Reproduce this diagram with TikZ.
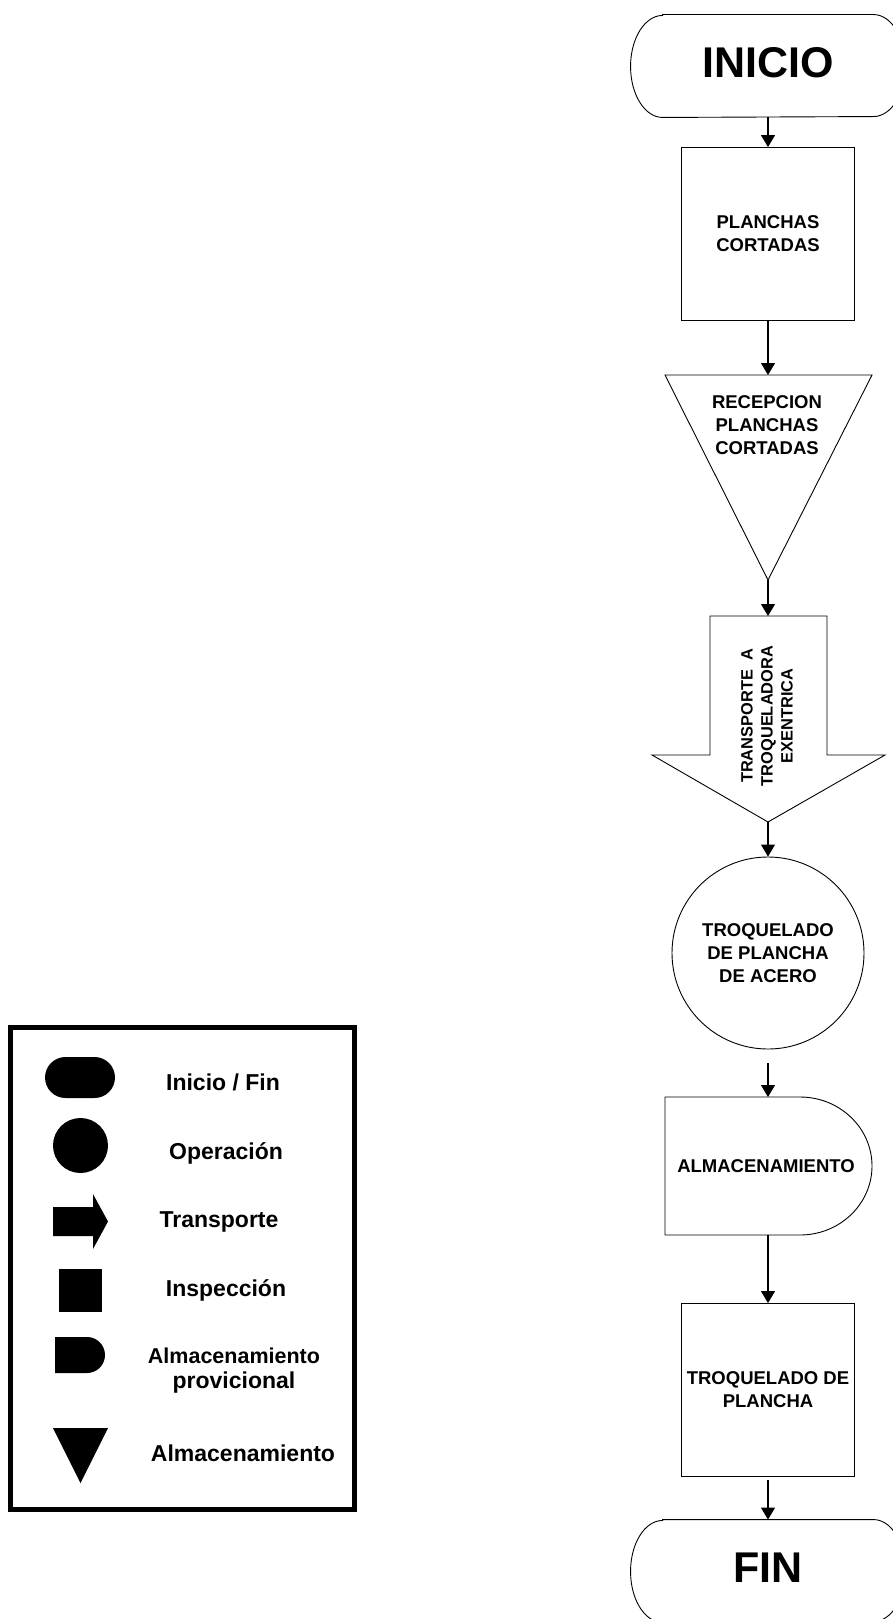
\documentclass[tikz,border=0pt]{standalone}
\usepackage{fontspec}
\setmainfont{Liberation Sans}
\usetikzlibrary{arrows.meta,calc,positioning}
\newcommand{\txtfig}{\fontsize{18.5}{23}\selectfont\bfseries}
\newcommand{\txtley}{\fontsize{23}{25}\selectfont\bfseries}
\newcommand{\termframe}[1]{%
 \draw ($(#1.north west)+(32,0)$) -- ($(#1.north east)-(32,0)$)
   arc[start angle=90, end angle=-90, x radius=32, y radius=51]
   -- ($(#1.south west)+(32,0)$)
   arc[start angle=270, end angle=90, x radius=32, y radius=51] -- cycle;}

\begin{document}
\begin{tikzpicture}[x=1pt, y=1pt, line width=0.9pt,
  flecha/.style={-{Triangle[width=14pt,length=12pt]}, line width=1.1pt},
  caja/.style={draw, minimum width=173, minimum height=173, inner sep=2pt, align=center, font=\txtfig},
  terminal/.style={minimum width=274, minimum height=102, inner sep=0pt, text depth=7pt, font={\fontsize{43}{43}\selectfont\bfseries}},
  texto/.style={align=center, font=\txtfig, inner sep=0pt},
  ley/.style={align=center, font=\txtley, anchor=base}]
 \useasboundingbox (0,0) rectangle (893,-1619);
 % leyenda
 \draw[line width=5pt] (10.5,-1027.5) rectangle (354.5,-1509.5);
 \fill[rounded corners=20.5] (45,-1057) rectangle (115,-1098);
 \fill (80.5,-1145.5) circle (27.5);
 \fill (53,-1207) -- (93,-1207) -- (93,-1194) -- (108,-1221.5) -- (93,-1249) -- (93,-1236) -- (53,-1236) -- cycle;
 \fill (59,-1269) rectangle (102,-1312);
 \fill (55,-1337) -- (87,-1337) arc[start angle=90, end angle=-90, radius=18] -- (55,-1373) -- cycle;
 \fill (53,-1428) -- (108,-1428) -- (80.5,-1483) -- cycle;
 \node[ley] (lini) at (223,-1090.7) {Inicio / Fin};
 \node[ley] (lope) at (226,-1159.3) {Operación};
 \node[ley] (ltra) at (219,-1227.7) {Transporte};
 \node[ley] (lins) at (226,-1296.7) {Inspección};
 \node[ley, anchor=center] (lalp) at (234,-1371) {{\fontsize{21.5}{25}\selectfont Almacenamiento}\\provicional};
 \node[ley] (lalm) at (243,-1461) {Almacenamiento};
 % diagrama
 \node[terminal] (inicio) at (768,-66) {INICIO};
 \termframe{inicio}
 \node[caja] (planchas) at (768,-234) {PLANCHAS\\CORTADAS};
 \draw (665,-375) -- (872,-375) -- (768,-580) -- cycle;
 \coordinate (rectop) at (768,-375);
 \coordinate (recbot) at (768,-580);
 \node[texto] (recepcion) at (767,-425) {RECEPCION\\PLANCHAS\\CORTADAS};
 \draw (710,-616) -- (827,-616) -- (827,-755) -- (885,-755) -- (768,-822) -- (652,-755) -- (710,-755) -- cycle;
 \coordinate (tratop) at (768,-616);
 \coordinate (trapunta) at (768,-822);
 \node[texto, rotate=90, font={\fontsize{16.4}{20}\selectfont\bfseries}] (transporte) at (767,-716) {TRANSPORTE~~A\\TROQUELADORA\\EXENTRICA};
 \node[texto, draw, circle, minimum size=192] (troquelado) at (768,-953) {TROQUELADO\\DE PLANCHA\\DE ACERO};
 \draw (665,-1097) -- (800,-1097) arc[start angle=90, end angle=-90, x radius=72, y radius=69] -- (665,-1235) -- cycle;
 \coordinate (almtop) at (768,-1097);
 \coordinate (almbot) at (768,-1235);
 \node[texto] (almacen) at (766,-1166) {ALMACENAMIENTO};
 \node[caja] (troqueladob) at (768,-1390) {TROQUELADO DE\\PLANCHA};
 \node[terminal] (fin) at (768,-1571) {FIN};
 \termframe{fin}
 \draw[flecha] (inicio) -- (planchas);
 \draw[flecha] (planchas) -- (rectop);
 \draw[flecha] (recbot) -- (tratop);
 \draw[flecha] (trapunta) -- (troquelado);
 \draw[flecha] ([yshift=-14pt]troquelado.south) -- (almtop);
 \draw[flecha] (almbot) -- (troqueladob);
 \draw[flecha] ([yshift=-3pt]troqueladob.south) -- (fin);
\end{tikzpicture}
\end{document}
